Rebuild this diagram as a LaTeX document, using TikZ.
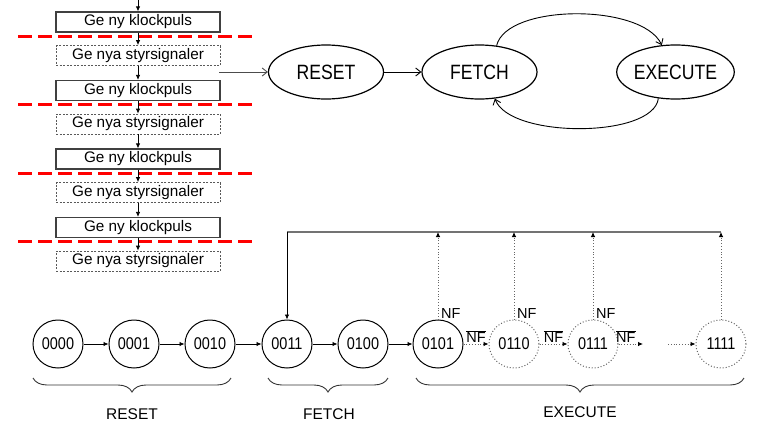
\documentclass[tikz,border=0pt]{standalone}
\usepackage{fontspec}
\setmainfont{Liberation Sans}
\newfontfamily\tallsans[FakeStretch=0.85]{Liberation Sans}
\usetikzlibrary{arrows.meta, shapes, positioning, calc, decorations.pathreplacing}

\begin{document}
\begin{tikzpicture}[x=1pt, y=-1pt,
        pulsbox/.style={rectangle, draw=black!75, line width=1.2pt, minimum width=164pt, minimum height=20pt, inner sep=0pt, font={\fontsize{15.3}{16}\selectfont}},
        signalbox/.style={pulsbox, draw=black!65, line width=0.8pt, dash pattern=on 2pt off 1.5pt},
        cutline/.style={draw=red, line width=3pt, dash pattern=on 14pt off 6pt},
        phase/.style={ellipse, draw=black, line width=1.2pt, minimum width=115pt, minimum height=54pt, inner sep=0pt, font={\tallsans\fontsize{20.7}{22}\selectfont}},
        state/.style={ellipse, draw=black, line width=1pt, minimum width=50pt, minimum height=48pt, inner sep=0pt, font={\tallsans\fontsize{17}{18}\selectfont}},
        dotstate/.style={state, draw=black!60, dotted},
        flow/.style={line width=0.8pt, -{Latex[length=5pt,width=4.5pt]}},
        dotflow/.style={line width=0.8pt, draw=black!60, dotted, -{Latex[length=5pt,width=4.5pt,color=black]}},
        trans/.style={line width=0.9pt, -{Straight Barb[length=5pt,width=8pt]}},
        nflabel/.style={inner sep=1pt, font={\fontsize{14.5}{15}\selectfont}},
        bracket/.style={decorate, decoration={brace, mirror, amplitude=14pt}, line width=0.9pt, draw=black!80},
        phaselabel/.style={font={\fontsize{15.5}{16}\selectfont}}
    ]
        \useasboundingbox (0,0) rectangle (772,426);
        % Clock pulses and control signals
        \coordinate (start) at (138,0);
        \foreach \i/\y in {1/22, 2/90.5, 3/159, 4/227.5} {
            \node (puls\i) [pulsbox] at (138,\y) {Ge ny klockpuls};
            \node (sig\i) [signalbox] at (138,\y+33.5) {Ge nya styrsignaler};
            \draw [cutline] (18,\y+14) -- (253,\y+14);
        }
        \draw [flow] (start) -- (puls1);
        \foreach \i in {1,...,4} {
            \draw [flow] (puls\i) -- (sig\i);
        }
        \draw [flow] (sig1) -- (puls2);
        \draw [flow] (sig2) -- (puls3);
        \draw [flow] (sig3) -- (puls4);
        % Phases
        \coordinate (tap) at (219,72);
        \node (reset) [phase] at (326,72) {RESET};
        \node (fetch) [phase] at (479.5,72) {FETCH};
        \node (execute) [phase, minimum width=113pt] at (675.5,72) {EXECUTE};
        \draw [trans, draw=black!70] (tap) -- (reset);
        \draw [trans] (reset) -- (fetch);
        \draw [trans] (fetch.57) .. controls +(10,-42) and +(-20,-42) .. (execute.117);
        \draw [trans] (execute.-123) .. controls +(-5,40) and +(15,40) .. (fetch.-60);
        % States
        \foreach \name/\x in {0000/58, 0001/134, 0010/210, 0011/287, 0100/363, 0101/438} {
            \node (s\name) [state] at (\x,344) {\name};
        }
        \node (s0110) [dotstate] at (514,344) {0110};
        \node (s0111) [dotstate] at (593,344) {0111};
        \node (s1111) [dotstate] at (721,344) {1111};
        \coordinate (gapA) at (643,344);
        \coordinate (gapB) at (668,344);
        \draw [flow] (s0000) -- (s0001);
        \draw [flow] (s0001) -- (s0010);
        \draw [flow] (s0010) -- (s0011);
        \draw [flow] (s0011) -- (s0100);
        \draw [flow] (s0100) -- (s0101);
        \draw [dotflow] (s0101) -- node[nflabel, above] {$\overline{\mbox{NF}}$} (s0110);
        \draw [dotflow] (s0110) -- node[nflabel, above] {$\overline{\mbox{NF}}$} (s0111);
        \draw [dotflow] (s0111) -- node[nflabel, above, pos=0.3] {$\overline{\mbox{NF}}$} (gapA);
        \draw [dotflow] (gapB) -- (s1111);
        % Back to fetch
        \coordinate (loopR) at (721,232);
        \coordinate (loopL) at (s0011.north |- loopR);
        \draw [line width=1.4pt, draw=black!55] (s1111.north |- loopR) -- (loopL);
        \draw [flow] (loopL) -- (s0011);
        \foreach \n in {0101,0110,0111,1111} {
            \draw [dotflow] (s\n) -- (s\n.north |- loopR);
        }
        \foreach \n in {0101,0110,0111} {
            \node (nf\n) [nflabel, above right=0pt and 2pt of s\n.north] {NF};
        }
        % Braces
        \draw [bracket] (33,378) -- (231,378);
        \draw [bracket] (268,378) -- (388,378);
        \draw [bracket] (416,378) -- (744,378);
        \node (lreset) [phaselabel] at (132,414) {RESET};
        \node (lfetch) [phaselabel] at (329,414) {FETCH};
        \node (lexecute) [phaselabel] at (580,412) {EXECUTE};
    \end{tikzpicture}
\end{document}
